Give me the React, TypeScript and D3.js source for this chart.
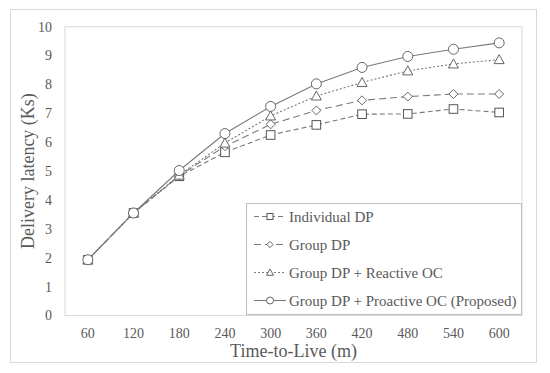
import React, { useEffect, useRef } from 'react';
import * as d3 from 'd3';

// time-to-live categories (minutes)
const ttl = ['60', '120', '180', '240', '300', '360', '420', '480', '540', '600'];

const individualDP = [1.93, 3.55, 4.82, 5.65, 6.25, 6.6, 6.97, 6.98, 7.15, 7.03];
const groupDP = [1.93, 3.55, 4.84, 5.86, 6.62, 7.1, 7.45, 7.58, 7.67, 7.67];
const groupDPReactive = [1.93, 3.55, 4.86, 5.97, 6.91, 7.6, 8.07, 8.47, 8.71, 8.86];
const groupDPProactive = [1.93, 3.55, 5.02, 6.3, 7.24, 8.02, 8.59, 8.97, 9.22, 9.44];

const seriesNames = [
  'Individual DP',
  'Group DP',
  'Group DP + Reactive OC',
  'Group DP + Proactive OC (Proposed)',
];

const yTicks = [0, 1, 2, 3, 4, 5, 6, 7, 8, 9, 10];

const FONT = 'Liberation Serif, DejaVu Serif, serif';
const LINE = '#7a7a7a';

// k scales the marker (legend uses smaller ones)
function drawMarker(g: any, shape: string, cx: number, cy: number, k: number) {
  if (shape === 'square') {
    g.append('rect').attr('x', cx - 4.3 * k).attr('y', cy - 4.3 * k).attr('width', 8.6 * k).attr('height', 8.6 * k)
      .attr('fill', 'white').attr('stroke', '#555').attr('stroke-width', 1);
  } else if (shape === 'diamond') {
    const r = 4.5 * k;
    g.append('path').attr('d', `M${cx},${cy - r}L${cx + r},${cy}L${cx},${cy + r}L${cx - r},${cy}Z`)
      .attr('fill', 'white').attr('stroke', '#666').attr('stroke-width', 1);
  } else if (shape === 'triangle') {
    const r = 5 * k;
    g.append('path').attr('d', `M${cx},${cy - r}L${cx + r},${cy + 0.8 * r}L${cx - r},${cy + 0.8 * r}Z`)
      .attr('fill', 'white').attr('stroke', '#666').attr('stroke-width', 1);
  } else {
    g.append('circle').attr('cx', cx).attr('cy', cy).attr('r', 5 * k)
      .attr('fill', 'white').attr('stroke', '#666').attr('stroke-width', 1);
  }
}

export default function App() {
  const ref = useRef<SVGSVGElement>(null);

  useEffect(() => {
    const svg = d3.select(ref.current);
    svg.selectAll('*').remove();

    const left = 65, right = 522, top = 26.7, bottom = 315.5;

    const x = d3.scaleBand().domain(ttl).range([left, right]);
    const y = d3.scaleLinear().domain([0, 10]).range([bottom, top]);

    // outer frame
    svg.append('rect').attr('x', 10.5).attr('y', 9.5).attr('width', 526).attr('height', 353)
      .attr('fill', 'white').attr('stroke', '#d9d9d9').attr('stroke-width', 1);

    // plot area border
    svg.append('rect').attr('x', left).attr('y', top).attr('width', right - left).attr('height', bottom - top)
      .attr('fill', 'none').attr('stroke', '#d9d9d9').attr('stroke-width', 1);

    // y tick labels
    svg.append('g').selectAll('text').data(yTicks).enter().append('text')
      .attr('x', 52).attr('y', (d: number) => y(d)).attr('dy', '0.35em')
      .attr('text-anchor', 'end').style('font-family', FONT).style('font-size', '14px').attr('fill', '#595959')
      .text((d: number) => d);

    // x tick labels
    svg.append('g').selectAll('text').data(ttl).enter().append('text')
      .attr('x', (d: string) => (x(d) as number) + x.bandwidth() / 2).attr('y', 338)
      .attr('text-anchor', 'middle').style('font-family', FONT).style('font-size', '14px').attr('fill', '#595959')
      .text((d: string) => d);

    // axis titles
    svg.append('text').attr('transform', 'translate(34,' + ((top + bottom) / 2) + ') rotate(-90)')
      .attr('text-anchor', 'middle').style('font-family', FONT).style('font-size', '18px').attr('fill', '#595959')
      .text('Delivery latency (Ks)');
    svg.append('text').attr('x', (left + right) / 2).attr('y', 357)
      .attr('text-anchor', 'middle').style('font-family', FONT).style('font-size', '18px').attr('fill', '#595959')
      .text('Time-to-Live (m)');

    const series = [
      { name: seriesNames[0], values: individualDP, dash: '5,3', shape: 'square' },
      { name: seriesNames[1], values: groupDP, dash: '7,4', shape: 'diamond' },
      { name: seriesNames[2], values: groupDPReactive, dash: '2,2', shape: 'triangle' },
      { name: seriesNames[3], values: groupDPProactive, dash: null, shape: 'circle' },
    ];

    const line = d3.line<number>()
      .x((d, i) => (x(ttl[i]) as number) + x.bandwidth() / 2)
      .y((d) => y(d));

    series.forEach(function (s) {
      const g = svg.append('g');
      g.append('path').attr('d', line(s.values) as string).attr('fill', 'none')
        .attr('stroke', LINE).attr('stroke-width', 1.1)
        .attr('stroke-dasharray', s.dash);
      s.values.forEach(function (v, i) {
        drawMarker(g, s.shape, (x(ttl[i]) as number) + x.bandwidth() / 2, y(v), 1);
      });
    });

    // legend
    const lg = svg.append('g');
    lg.append('rect').attr('x', 246.5).attr('y', 203.5).attr('width', 275).attr('height', 111)
      .attr('fill', 'white').attr('stroke', '#bfbfbf').attr('stroke-width', 1);
    const rowY = [216.5, 244.5, 272.5, 300.5];
    series.forEach(function (s, i) {
      lg.append('line').attr('x1', 254).attr('x2', 286).attr('y1', rowY[i]).attr('y2', rowY[i])
        .attr('stroke', LINE).attr('stroke-width', 1.1).attr('stroke-dasharray', s.dash);
      drawMarker(lg, s.shape, 270, rowY[i], 0.7);
      lg.append('text').attr('x', 289).attr('y', rowY[i]).attr('dy', '0.35em')
        .style('font-family', FONT).style('font-size', '15px').attr('fill', '#595959')
        .text(s.name);
    });
  }, []);

  return (
    <svg ref={ref} width={550} height={373} style={{ position: 'absolute', left: 0, top: 0, background: 'white' }}></svg>
  );
}
